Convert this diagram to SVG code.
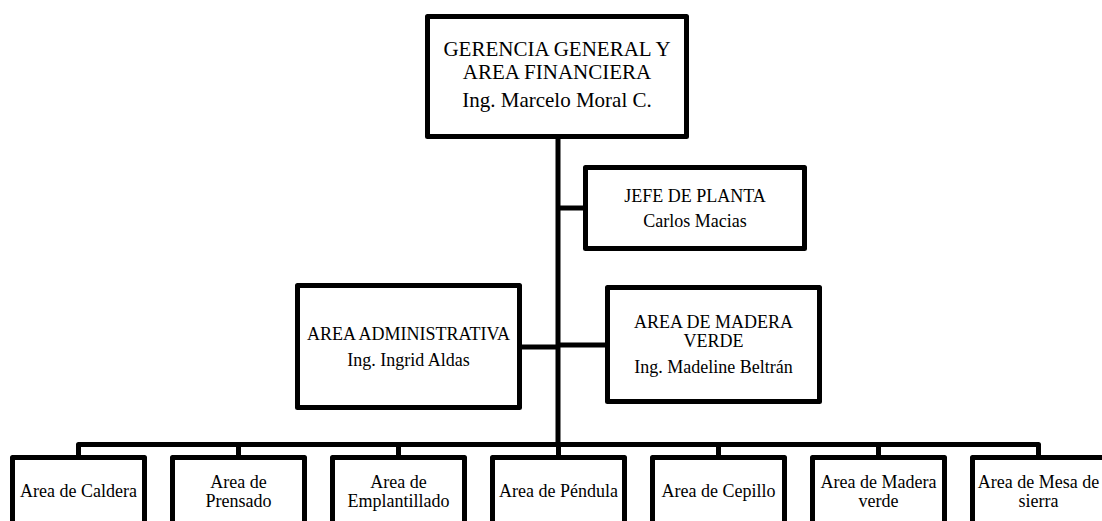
<svg xmlns="http://www.w3.org/2000/svg" width="1102" height="521" viewBox="0 0 1102 521">
<style>
.box{fill:#fff;stroke:#000;stroke-width:5;stroke-linejoin:round}
.ln{fill:none;stroke:#000;stroke-width:5;stroke-linejoin:round}
text{font-family:"Liberation Serif","Times New Roman",serif;fill:#000;text-anchor:middle;font-size:18px}
.big{font-size:21px}
</style>
<rect width="1102" height="521" fill="#fff"/>
<g id="connectors">
<line class="ln" x1="558" y1="137" x2="558" y2="445"/>
<line class="ln" x1="558" y1="208" x2="586" y2="208"/>
<line class="ln" x1="519" y1="347" x2="558" y2="347"/>
<line class="ln" x1="558" y1="345" x2="608" y2="345"/>
<path class="ln" d="M78.5 458 V444.5 H1038.5 V458"/>
<line class="ln" x1="238.5" y1="444.5" x2="238.5" y2="458"/>
<line class="ln" x1="398.5" y1="444.5" x2="398.5" y2="458"/>
<line class="ln" x1="558.5" y1="444.5" x2="558.5" y2="458"/>
<line class="ln" x1="718.5" y1="444.5" x2="718.5" y2="458"/>
<line class="ln" x1="878.5" y1="444.5" x2="878.5" y2="458"/>
</g>
<g id="gerencia">
<rect class="box" x="427.5" y="16.5" width="259" height="120"/>
<text class="big" x="557" y="56">GERENCIA GENERAL Y</text>
<text class="big" x="557" y="78.5">AREA FINANCIERA</text>
<text class="big" x="557" y="107">Ing. Marcelo Moral C.</text>
</g>
<g id="jefe">
<rect class="box" x="585.5" y="167.5" width="219" height="81"/>
<text x="695" y="202">JEFE DE PLANTA</text>
<text x="695" y="227">Carlos Macias</text>
</g>
<g id="admin">
<rect class="box" x="297.5" y="285.5" width="222" height="122"/>
<text x="408.5" y="340">AREA ADMINISTRATIVA</text>
<text x="408.5" y="366">Ing. Ingrid Aldas</text>
</g>
<g id="madera">
<rect class="box" x="607.5" y="287.5" width="212" height="114"/>
<text x="713.5" y="328">AREA DE MADERA</text>
<text x="713.5" y="347">VERDE</text>
<text x="713.5" y="373">Ing. Madeline Beltrán</text>
</g>
<g id="caldera">
<rect class="box" x="12.5" y="457.5" width="132" height="100"/>
<text x="78.5" y="497">Area de Caldera</text>
</g>
<g id="prensado">
<rect class="box" x="172.5" y="457.5" width="132" height="100"/>
<text x="238.5" y="488">Area de</text>
<text x="238.5" y="507">Prensado</text>
</g>
<g id="emplantillado">
<rect class="box" x="332.5" y="457.5" width="132" height="100"/>
<text x="398.5" y="488">Area de</text>
<text x="398.5" y="507">Emplantillado</text>
</g>
<g id="pendula">
<rect class="box" x="492.5" y="457.5" width="132" height="100"/>
<text x="558.5" y="497">Area de Péndula</text>
</g>
<g id="cepillo">
<rect class="box" x="652.5" y="457.5" width="132" height="100"/>
<text x="718.5" y="497">Area de Cepillo</text>
</g>
<g id="maderaverde">
<rect class="box" x="812.5" y="457.5" width="132" height="100"/>
<text x="878.5" y="488">Area de Madera</text>
<text x="878.5" y="507">verde</text>
</g>
<g id="mesasierra">
<rect class="box" x="972.5" y="457.5" width="132" height="100"/>
<text x="1038.5" y="488">Area de Mesa de</text>
<text x="1038.5" y="507">sierra</text>
</g>
</svg>
